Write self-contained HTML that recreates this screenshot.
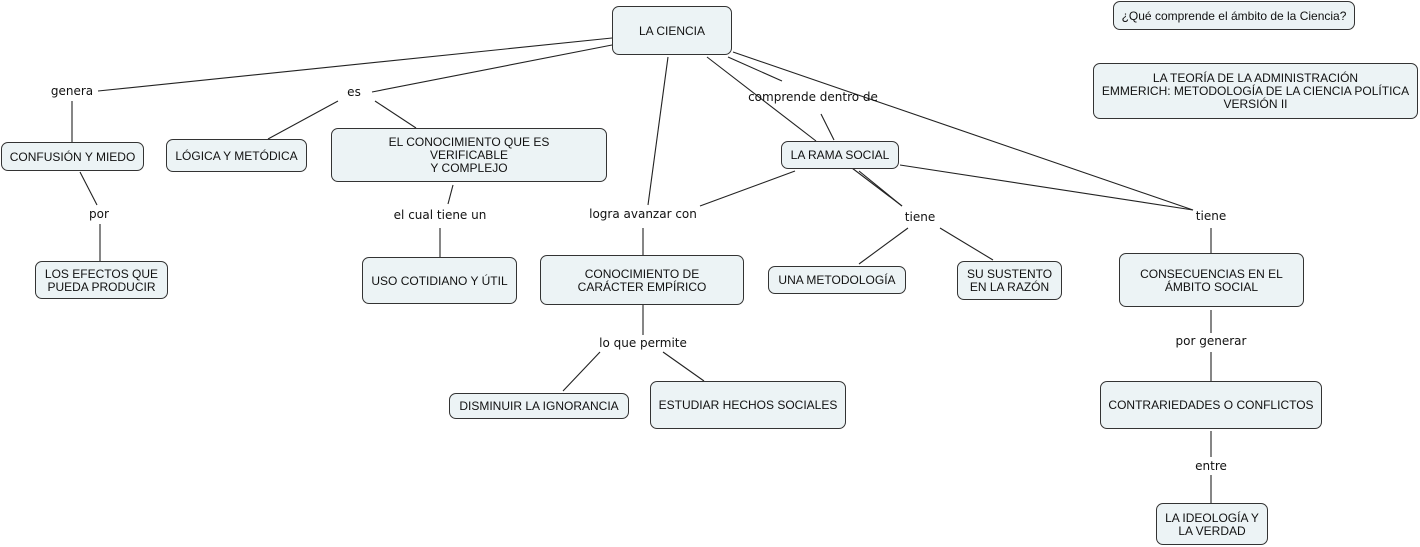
<!DOCTYPE html>
<html><head><meta charset="utf-8"><style>
html,body{margin:0;padding:0;background:#fff;}
body{width:1420px;height:547px;position:relative;overflow:hidden;font-family:"Liberation Sans",Arial,sans-serif;}
.b{position:absolute;box-sizing:border-box;background:#ecf3f5;border:1px solid #333;border-radius:7px;font-size:12px;color:#111;display:flex;align-items:center;justify-content:center;text-align:center;line-height:13px;padding-top:1px;}
.l{position:absolute;font-family:"DejaVu Sans",sans-serif;font-size:12px;color:#111;transform:translate(-50%,-50%);white-space:nowrap;background:transparent;}
svg{position:absolute;left:0;top:0;}
</style></head><body>
<svg width="1420" height="547" stroke="#222" stroke-width="1.1" fill="none">
<line x1="98" y1="91" x2="612" y2="38"/>
<line x1="372" y1="92" x2="612" y2="45"/>
<line x1="72" y1="101" x2="72" y2="142"/>
<line x1="338" y1="101" x2="268" y2="139"/>
<line x1="375" y1="101" x2="416" y2="128"/>
<line x1="80" y1="172" x2="97" y2="205"/>
<line x1="100" y1="224" x2="100" y2="261"/>
<line x1="453" y1="185" x2="448" y2="204"/>
<line x1="440" y1="228" x2="440" y2="257"/>
<line x1="668" y1="57" x2="648" y2="205"/>
<line x1="643" y1="228" x2="643" y2="255"/>
<line x1="643" y1="305" x2="643" y2="335"/>
<line x1="600" y1="352" x2="563" y2="391"/>
<line x1="663" y1="352" x2="704" y2="381"/>
<line x1="728" y1="57" x2="782" y2="81"/>
<line x1="707" y1="57" x2="816" y2="141"/>
<line x1="821" y1="114" x2="834" y2="140"/>
<line x1="795" y1="171" x2="700" y2="206"/>
<line x1="852" y1="168" x2="902" y2="206"/>
<line x1="859" y1="171" x2="902" y2="206"/>
<line x1="908" y1="228" x2="859" y2="264"/>
<line x1="940" y1="228" x2="993" y2="260"/>
<line x1="733" y1="52" x2="1193" y2="210"/>
<line x1="900" y1="165" x2="1193" y2="210"/>
<line x1="1211" y1="228" x2="1211" y2="253"/>
<line x1="1211" y1="310" x2="1211" y2="333"/>
<line x1="1211" y1="352" x2="1211" y2="381"/>
<line x1="1211" y1="431" x2="1211" y2="457"/>
<line x1="1211" y1="475" x2="1211" y2="503"/>
</svg>

<div class="b" style="left:612px;top:6px;width:120px;height:49px;">LA CIENCIA</div>
<div class="b" style="left:1113px;top:1px;width:242px;height:29px;">¿Qué comprende el ámbito de la Ciencia?</div>
<div class="b" style="left:1093px;top:63px;width:325px;height:56px;">LA TEORÍA DE LA ADMINISTRACIÓN<br>EMMERICH: METODOLOGÍA DE LA CIENCIA POLÍTICA<br>VERSIÓN II</div>
<div class="b" style="left:1px;top:142px;width:143px;height:29px;">CONFUSIÓN Y MIEDO</div>
<div class="b" style="left:166px;top:139px;width:141px;height:33px;">LÓGICA Y METÓDICA</div>
<div class="b" style="left:331px;top:128px;width:276px;height:54px;">EL CONOCIMIENTO QUE ES<br>VERIFICABLE<br>Y COMPLEJO</div>
<div class="b" style="left:35px;top:261px;width:133px;height:38px;">LOS EFECTOS QUE<br>PUEDA PRODUCIR</div>
<div class="b" style="left:362px;top:257px;width:155px;height:47px;">USO COTIDIANO Y ÚTIL</div>
<div class="b" style="left:540px;top:255px;width:204px;height:50px;">CONOCIMIENTO DE<br>CARÁCTER EMPÍRICO</div>
<div class="b" style="left:449px;top:393px;width:180px;height:26px;">DISMINUIR LA IGNORANCIA</div>
<div class="b" style="left:650px;top:381px;width:196px;height:48px;">ESTUDIAR HECHOS SOCIALES</div>
<div class="b" style="left:781px;top:141px;width:118px;height:28px;">LA RAMA SOCIAL</div>
<div class="b" style="left:768px;top:266px;width:138px;height:28px;">UNA METODOLOGÍA</div>
<div class="b" style="left:957px;top:261px;width:105px;height:39px;">SU SUSTENTO<br>EN LA RAZÓN</div>
<div class="b" style="left:1119px;top:253px;width:185px;height:54px;">CONSECUENCIAS EN EL<br>ÁMBITO SOCIAL</div>
<div class="b" style="left:1100px;top:381px;width:222px;height:48px;">CONTRARIEDADES O CONFLICTOS</div>
<div class="b" style="left:1156px;top:503px;width:112px;height:42px;">LA IDEOLOGÍA Y<br>LA VERDAD</div>

<div class="l" style="left:72px;top:91px;">genera</div>
<div class="l" style="left:354px;top:92px;">es</div>
<div class="l" style="left:99px;top:214px;">por</div>
<div class="l" style="left:440px;top:215px;">el cual tiene un</div>
<div class="l" style="left:643px;top:214px;">logra avanzar con</div>
<div class="l" style="left:643px;top:343px;">lo que permite</div>
<div class="l" style="left:813px;top:97px;">comprende dentro de</div>
<div class="l" style="left:920px;top:217px;">tiene</div>
<div class="l" style="left:1211px;top:216px;">tiene</div>
<div class="l" style="left:1211px;top:341px;">por generar</div>
<div class="l" style="left:1211px;top:466px;">entre</div>
</body></html>
